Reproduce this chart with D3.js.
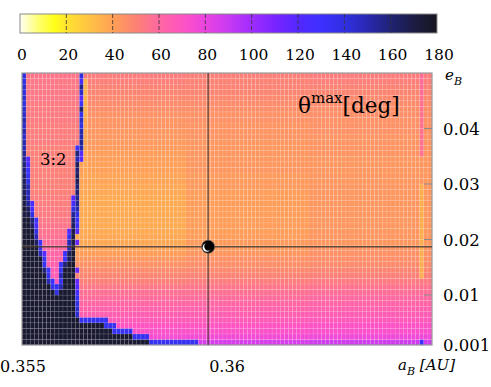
<!DOCTYPE html>
<html lang="en">
<head>
  <meta charset="UTF-8" />
  <title>theta max map</title>
  <style>
    body { margin: 0; background: #fff; }
    svg { display: block; }
  </style>
</head>
<body>
  <svg id="chart" width="491" height="387"></svg>

  <script src="https://d3js.org/d3.v7.min.js"></script>
  <script>
    // ---- data ----
    // grid: a from 0.355 in steps of 0.0001 (100 columns), e from 0.001 in steps of 0.001 (49 rows)
    const aStart = 0.355, aStep = 0.0001, nCols = 100;
    const eStart = 0.001, eStep = 0.001, nRows = 49;

    // background theta_max per row (row 0 = e 0.001) in three a-zones
    const zoneCols = [0, 40, 70];
    const bgA = [84,75,72,70,67,65,63,61,59,57,54,51,49,47,45,43,41,39,38,38,
                 37,37,37,37,37,37,37,38,38,39,39,40,40,41,41,42,42,43,43,44,
                 44,45,46,47,48,49,50,51,52];
    const bgB = [86,76,72,70,67,65,63,61,59,57,55,52,50,48,46,45,43,42,42,41,
                 41,41,41,41,41,41,41,41,42,42,42,43,43,43,43,43,43,44,44,44,
                 45,45,46,47,48,49,50,50,51];
    const bgC = [88,77,73,71,68,66,64,62,60,58,56,53,51,49,47,46,45,44,43,43,
                 43,43,43,43,43,43,43,43,43,43,43,43,43,43,44,44,44,44,45,45,
                 45,46,46,47,48,49,50,51,52];

    // 3:2 resonance and chaotic zone, per row: [firstCol, lastCol, theta_max]
    const features = [
      [[0,30,175],[31,42,135],[97,97,130]],
      [[0,26,175],[27,30,135]],
      [[0,21,175],[22,26,135]],
      [[0,19,175],[20,22,135]],
      [[0,13,175],[14,20,135]],
      [[0,12,175],[13,13,145]],
      [[0,12,175],[13,13,145]],
      [[0,12,175],[13,13,140]],
      [[0,12,175],[13,13,135]],
      [[0,7,175],[8,8,140],[9,12,175],[13,13,125]],
      [[0,6,175],[7,8,135],[9,9,150],[10,12,175],[13,13,120]],
      [[0,5,175],[6,6,150],[7,7,130],[8,8,68],[9,9,135],[10,12,175],[13,13,115]],
      [[0,5,175],[6,6,135],[7,8,66],[9,9,150],[10,12,175],[97,97,36]],
      [[0,4,175],[5,5,160],[6,6,130],[7,8,66],[9,9,135],[10,12,175],[13,13,115],[97,97,36]],
      [[0,4,175],[5,5,135],[6,8,64],[9,9,130],[10,10,160],[11,12,175],[97,97,36]],
      [[0,4,175],[5,5,135],[6,9,62],[10,10,130],[11,11,165],[12,12,175],[97,97,36]],
      [[0,3,175],[4,4,150],[5,5,120],[6,9,62],[10,10,130],[11,11,165],[12,12,175],[97,97,36]],
      [[0,3,175],[4,4,135],[5,10,60],[11,11,150],[12,12,175],[97,97,36]],
      [[0,2,175],[3,3,165],[4,4,130],[5,10,58],[11,11,150],[12,12,170],[13,13,115],[97,97,36]],
      [[0,2,175],[3,3,150],[4,10,57],[11,11,135],[12,12,170],[97,97,36]],
      [[0,2,175],[3,3,140],[4,10,56],[11,11,120],[12,12,170],[13,13,120],[97,97,36]],
      [[0,1,175],[2,2,165],[3,3,125],[4,11,55],[12,12,165],[13,13,130],[97,97,36]],
      [[0,1,175],[2,2,160],[3,3,130],[4,11,54],[12,12,160],[13,13,130],[97,97,36]],
      [[0,1,170],[2,2,140],[3,11,53],[12,12,155],[13,13,140],[97,97,36]],
      [[0,0,175],[1,1,165],[2,2,125],[3,11,53],[12,12,140],[13,13,150],[97,97,36]],
      [[0,0,170],[1,1,155],[2,2,125],[3,11,52],[12,12,125],[13,13,155],[97,97,36]],
      [[0,0,170],[1,1,150],[2,11,52],[12,12,120],[13,13,155],[97,97,36]],
      [[0,0,165],[1,1,150],[2,12,51],[13,13,160],[97,97,36]],
      [[0,0,165],[1,1,150],[2,12,51],[13,13,160],[97,97,36]],
      [[0,0,165],[1,1,140],[2,12,51],[13,13,165]],
      [[0,0,165],[1,1,135],[2,12,51],[13,13,165],[15,15,38]],
      [[0,0,160],[1,1,130],[2,12,51],[13,13,160],[15,15,38]],
      [[0,0,160],[1,1,125],[2,12,51],[13,13,165],[15,15,38]],
      [[0,0,155],[1,1,120],[2,12,51],[13,13,150],[14,14,120],[15,15,38]],
      [[0,0,155],[1,12,51],[13,13,160],[14,14,120],[15,15,38],[97,97,56]],
      [[0,0,150],[1,12,51],[13,13,130],[14,14,150],[15,15,38],[97,97,56]],
      [[0,0,150],[1,13,52],[14,14,155],[15,15,38],[97,97,56]],
      [[0,0,145],[1,13,52],[14,14,150],[15,15,38],[97,97,56]],
      [[0,0,150],[1,13,52],[14,14,150],[15,15,38],[97,97,56]],
      [[0,0,145],[1,13,52],[14,14,140],[15,15,38],[97,97,56]],
      [[0,0,150],[1,13,53],[14,14,145],[15,15,38],[97,97,56]],
      [[0,0,145],[1,13,53],[14,14,135],[15,15,34],[97,97,56]],
      [[0,0,145],[1,13,53],[14,14,160],[15,15,34],[97,97,56]],
      [[0,0,140],[1,13,53],[14,14,130],[15,15,34],[97,97,56]],
      [[0,0,145],[1,13,54],[14,14,120],[15,15,34],[97,97,56]],
      [[0,0,140],[1,13,54],[14,14,145],[15,15,34],[97,97,58]],
      [[0,0,145],[1,13,54],[14,14,155],[15,15,34],[97,97,58]],
      [[0,0,140],[1,13,54],[14,14,125],[15,15,34],[97,97,58]],
      [[0,0,140],[1,13,55],[14,14,140],[97,97,58]]
    ];

    const planet = { a: 0.35954, e: 0.0187 };
    const xTicks = [0.355, 0.36];
    const yTicks = [0.001, 0.01, 0.02, 0.03, 0.04];
    const cbTicks = [0, 20, 40, 60, 80, 100, 120, 140, 160, 180];

    // colour bar stops
    const colorDomain = [0, 8, 15, 20, 30, 40, 50, 60, 70, 80, 90, 100, 110, 120, 130, 140, 150, 160, 170, 180];
    const colorRange = ["#fffff4", "#ffff70", "#ffff18", "#ffe430", "#ffc244", "#ffa056", "#fc8274",
                        "#ff68a0", "#ff54c2", "#ea44e0", "#c83af2", "#a02cff", "#7a24ff", "#5428ff",
                        "#3c30ff", "#3030e2", "#2828b2", "#202274", "#1c1c44", "#161620"];

    const serif = "'DejaVu Serif', 'Liberation Serif', serif";

    // ---- drawing ----
    const svg = d3.select("#chart");
    const W = +svg.attr("width");
    const color = d3.scaleLinear().domain(colorDomain).range(colorRange).clamp(true);

    const x = d3.scaleLinear().domain([0.355, 0.365]).range([22, 432]);
    const y = d3.scaleLinear().domain([0.001, 0.050]).range([345, 73]);

    function cellValue(i, j) {
      for (const [c0, c1, v] of features[i]) {
        if (j >= c0 && j <= c1) return v;
      }
      if (j >= zoneCols[2]) return bgC[i];
      if (j >= zoneCols[1]) return bgB[i];
      return bgA[i];
    }

    const cells = [];
    for (let i = 0; i < nRows; i++) {
      for (let j = 0; j < nCols; j++) {
        cells.push({ i, j, a: aStart + j * aStep, e: eStart + i * eStep, v: cellValue(i, j) });
      }
    }

    const map = svg.append("g").attr("class", "map");
    map.selectAll("rect")
       .data(cells)
       .enter()
       .append("rect")
       .attr("x", d => x(d.a))
       .attr("y", d => y(d.e + eStep))
       .attr("width", d => x(d.a + aStep) - x(d.a) + 0.05)
       .attr("height", d => y(d.e) - y(d.e + eStep) + 0.05)
       .attr("fill", d => color(d.v))
       .attr("stroke", "rgba(255,255,255,0.22)")
       .attr("stroke-width", 0.5);

    // frame
    svg.append("rect")
       .attr("x", x(0.355)).attr("y", y(0.050))
       .attr("width", x(0.365) - x(0.355))
       .attr("height", y(0.001) - y(0.050))
       .attr("fill", "none")
       .attr("stroke", "#9a9a9a")
       .attr("stroke-width", 1.2);

    // inward ticks on the right edge
    svg.selectAll(".ytick")
       .data(yTicks.slice(1))
       .enter()
       .append("line")
       .attr("x1", x(0.365) - 8).attr("x2", x(0.365))
       .attr("y1", d => y(d)).attr("y2", d => y(d))
       .attr("stroke", "#8a8a8a").attr("stroke-width", 1);

    // crosshair through the planet position
    svg.append("line")
       .attr("x1", x(planet.a)).attr("x2", x(planet.a))
       .attr("y1", y(0.050)).attr("y2", y(0.001))
       .attr("stroke", "#4a3c34").attr("stroke-opacity", 0.85).attr("stroke-width", 1.3);
    svg.append("line")
       .attr("x1", x(0.355)).attr("x2", x(0.365))
       .attr("y1", y(planet.e)).attr("y2", y(planet.e))
       .attr("stroke", "#4a3c34").attr("stroke-opacity", 0.85).attr("stroke-width", 1.3);

    // planet marker
    const px = x(planet.a), py = y(planet.e);
    svg.append("circle").attr("cx", px).attr("cy", py).attr("r", 6.5)
       .attr("fill", "#000").attr("stroke", "#555").attr("stroke-width", 0.8);
    svg.append("circle").attr("cx", px - 1.2).attr("cy", py + 0.8).attr("r", 4.3).attr("fill", "#fff");
    svg.append("circle").attr("cx", px + 0.3).attr("cy", py - 0.3).attr("r", 4.2).attr("fill", "#000");

    // axis labels (kept inside the page if centring would cut them)
    svg.selectAll(".xlab")
       .data(xTicks)
       .enter()
       .append("text")
       .attr("class", "xlab")
       .attr("x", d => x(d))
       .attr("y", 372)
       .attr("text-anchor", "middle")
       .style("font-family", serif)
       .attr("font-size", 16)
       .text(d => d)
       .each(function() {
         const b = this.getBBox();
         if (b.x < 0) d3.select(this).attr("x", +d3.select(this).attr("x") - b.x);
       });

    svg.selectAll(".ylab")
       .data(yTicks)
       .enter()
       .append("text")
       .attr("x", 443)
       .attr("y", d => y(d) + 6)
       .style("font-family", serif)
       .attr("font-size", 16.5)
       .text(d => d)
       .each(function() {
         const b = this.getBBox();
         if (b.x + b.width > W) d3.select(this).attr("x", W - b.width);
       });

    const eLab = svg.append("text").attr("x", 445).attr("y", 80)
                    .style("font-family", serif).attr("font-size", 15).attr("font-style", "italic");
    eLab.append("tspan").text("e");
    eLab.append("tspan").attr("font-size", 11).attr("dy", 5).text("B");

    const aLab = svg.append("text").attr("x", 398).attr("y", 370)
                    .style("font-family", serif).attr("font-size", 15).attr("font-style", "italic");
    aLab.append("tspan").text("a");
    aLab.append("tspan").attr("font-size", 11).attr("dy", 5).text("B");
    aLab.append("tspan").attr("dy", -5).text(" [AU]");

    const tLab = svg.append("text").attr("x", 298).attr("y", 113)
                    .style("font-family", serif).attr("font-size", 21.5);
    tLab.append("tspan").text("θ");
    tLab.append("tspan").attr("font-size", 15).attr("dy", -10).text("max");
    tLab.append("tspan").attr("dy", 10).text("[deg]");

    svg.append("text").attr("x", 40).attr("y", 165)
       .style("font-family", serif).attr("font-size", 16.5).text("3:2");

    // colour bar
    const cb = d3.scaleLinear().domain([0, 180]).range([20, 437]);
    const grad = svg.append("defs").append("linearGradient").attr("id", "cbGrad");
    colorDomain.forEach((v, k) => {
      grad.append("stop").attr("offset", (v / 180 * 100) + "%").attr("stop-color", colorRange[k]);
    });
    svg.append("rect")
       .attr("x", cb(0)).attr("y", 14)
       .attr("width", cb(180) - cb(0)).attr("height", 19)
       .attr("fill", "url(#cbGrad)")
       .attr("stroke", "#8a8a8a").attr("stroke-width", 1);
    svg.selectAll(".cbdiv")
       .data(cbTicks.slice(1, -1))
       .enter()
       .append("line")
       .attr("x1", d => cb(d)).attr("x2", d => cb(d))
       .attr("y1", 14).attr("y2", 33)
       .attr("stroke", "#333").attr("stroke-width", 0.8)
       .attr("stroke-dasharray", "4,2");
    svg.selectAll(".cblab")
       .data(cbTicks)
       .enter()
       .append("text")
       .attr("x", d => cb(d) + 2)
       .attr("y", 60)
       .style("font-family", serif)
       .attr("text-anchor", "middle")
       .attr("font-size", 15.5)
       .text(d => d);
  </script>
</body>
</html>
